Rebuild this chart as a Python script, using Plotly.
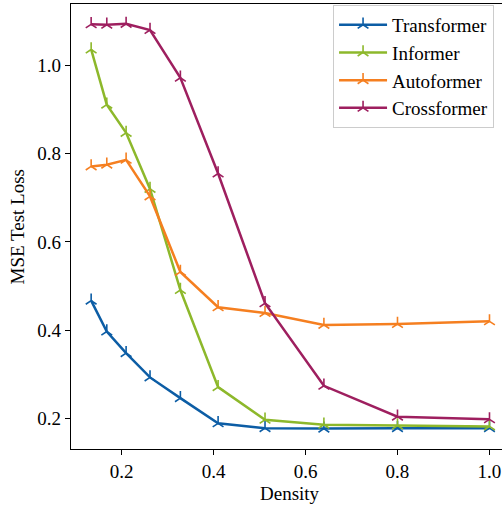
import plotly.graph_objects as go

density = [0.134, 0.168, 0.21, 0.262, 0.328, 0.41, 0.512, 0.64, 0.8, 1.0]
transformer = [0.467, 0.397, 0.348, 0.293, 0.246, 0.189, 0.178, 0.177, 0.178, 0.178]
informer = [1.036, 0.911, 0.847, 0.720, 0.491, 0.271, 0.197, 0.186, 0.184, 0.182]
autoformer = [0.771, 0.775, 0.786, 0.703, 0.532, 0.452, 0.439, 0.412, 0.414, 0.420]
crossformer = [1.093, 1.092, 1.094, 1.080, 0.972, 0.755, 0.461, 0.274, 0.204, 0.198]

series_names = ["Transformer", "Informer", "Autoformer", "Crossformer"]
series_values = [transformer, informer, autoformer, crossformer]
colors = ["#0C5DA5", "#8DB82B", "#F57F20", "#9E1F5F"]

x_ticks = [0.2, 0.4, 0.6, 0.8, 1.0]
y_ticks = [0.2, 0.4, 0.6, 0.8, 1.0]

FONT = "Liberation Serif"

fig = go.Figure()
for name, vals, c in zip(series_names, series_values, colors):
    fig.add_trace(go.Scatter(
        x=density, y=vals, name=name, mode="lines+markers",
        line=dict(color=c, width=2.5),
        marker=dict(symbol="y-up", size=9, color=c, line=dict(width=1.6, color=c)),
    ))

axis_common = dict(
    showgrid=False, zeroline=False, showline=True, linecolor="black", linewidth=1.3,
    ticks="outside", ticklen=5, tickwidth=1.2, tickcolor="black",
    tickfont=dict(family=FONT, size=19, color="black"),
    automargin=False,
)

fig.update_layout(
    width=502, height=508,
    margin=dict(l=71, r=0, t=4, b=59),
    paper_bgcolor="white", plot_bgcolor="white",
    font=dict(family=FONT, size=19, color="black"),
    xaxis=dict(
        **axis_common, range=[0.0902, 1.0272], tickvals=x_ticks, tickformat=".1f",
        mirror=True,
    ),
    yaxis=dict(
        **axis_common, range=[0.1308, 1.139], tickvals=y_ticks, tickformat=".1f",
    ),
    legend=dict(
        x=0.608, y=0.998, xanchor="left", yanchor="top",
        bgcolor="white", bordercolor="#cccccc", borderwidth=1,
        itemwidth=48,
        font=dict(family=FONT, size=19, color="black"),
    ),
    showlegend=True,
    annotations=[
        dict(text="Density", xref="paper", yref="paper", x=0.508, y=-0.0989,
             xanchor="center", yanchor="middle", showarrow=False,
             font=dict(family=FONT, size=19, color="black")),
        dict(text="MSE Test Loss", xref="paper", yref="paper", x=-0.123, y=0.5,
             xanchor="center", yanchor="middle", textangle=-90, showarrow=False,
             font=dict(family=FONT, size=19, color="black")),
    ],
)

fig.write_html(
    "out.html",
    config={"displayModeBar": False},
    post_script="document.body.style.margin='0';document.body.style.overflow='hidden';",
)
